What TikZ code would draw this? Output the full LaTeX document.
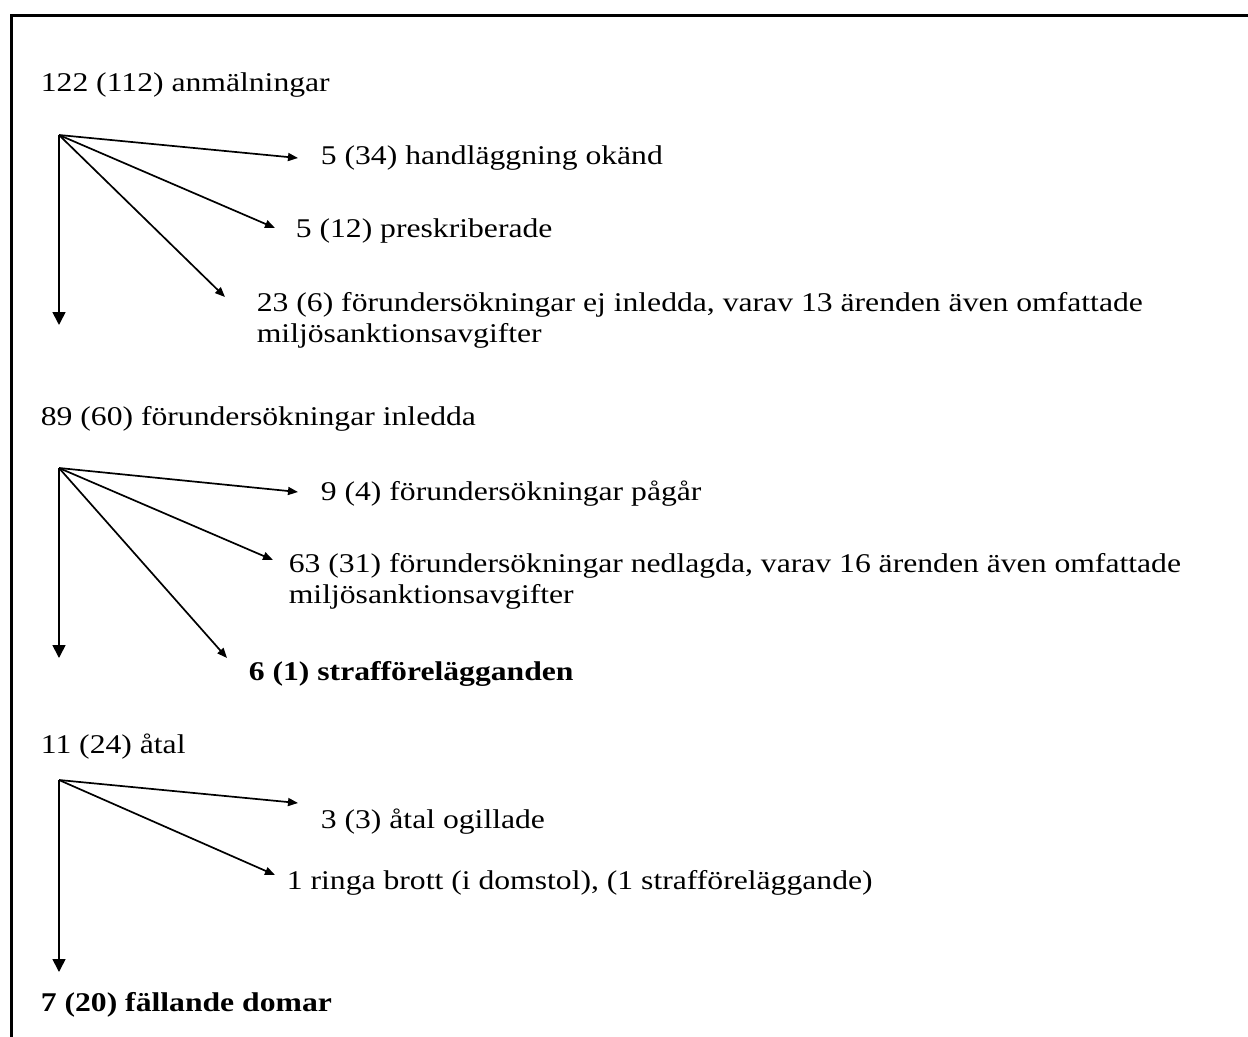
\documentclass[tikz,border=0pt]{standalone}
\usepackage{fontspec}
\setmainfont{Liberation Serif}[FakeStretch=1.17]
\usetikzlibrary{arrows.meta}
\tikzset{every path/.style={black, line width=0.034cm},
  every node/.style={anchor=base west, inner sep=0pt, align=left, font=\fontsize{15.4}{17.6}\selectfont},
  side/.style={-{Triangle[length=0.2cm,width=0.16cm]}},
  down/.style={-{Triangle[length=0.26cm,width=0.26cm]}},
  frame/.style={line width=0.054cm}}

\begin{document}
\begin{tikzpicture}[x=0.02cm, y=-0.02cm]
   \useasboundingbox (0,0) rectangle (1248,1037);
   \draw[frame] (11.3,1037) -- (11.3,15.3) -- (1248,15.3);

   \node (anm) at (40,92) {122 (112) anmälningar};
   \begin{scope}[shift={(59,135)}]
    \coordinate (o) at (0,0);
    \coordinate (a) at (239,23);
    \coordinate (b) at (216,93);
    \coordinate (c) at (166,162);
    \coordinate (d) at (0,190);
    \node (hand) at (261,30) {5 (34) handläggning okänd};
    \node (presk) at (236,103) {5 (12) preskriberade};
    \node (ejinl) at (197,207) {23 (6) förundersökningar ej inledda, varav 13 ärenden även omfattade\\miljösanktionsavgifter};
    \draw[side] (o) -- (a);
    \draw[side] (o) -- (b);
    \draw[side] (o) -- (c);
    \draw[down] (o) -- (d);
   \end{scope}

   \node (inl) at (40,425) {89 (60) förundersökningar inledda};
   \begin{scope}[shift={(59,468)}]
    \coordinate (o) at (0,0);
    \coordinate (a) at (239,24);
    \coordinate (b) at (214,92);
    \coordinate (c) at (168,190);
    \coordinate (d) at (0,190);
    \node (pagar) at (261,32) {9 (4) förundersökningar pågår};
    \node (nedl) at (229,135) {63 (31) förundersökningar nedlagda, varav 16 ärenden även omfattade\\miljösanktionsavgifter};
    \node (straff) at (189,212) {\textbf{6 (1) strafförelägganden}};
    \draw[side] (o) -- (a);
    \draw[side] (o) -- (b);
    \draw[side] (o) -- (c);
    \draw[down] (o) -- (d);
   \end{scope}

   \node (atal) at (40,753) {11 (24) åtal};
   \begin{scope}[shift={(59,780)}]
    \coordinate (o) at (0,0);
    \coordinate (a) at (239,23);
    \coordinate (b) at (216,95);
    \coordinate (d) at (0,192);
    \node (ogill) at (261,48) {3 (3) åtal ogillade};
    \node (ringa) at (227,109) {1 ringa brott (i domstol), (1 strafföreläggande)};
    \draw[side] (o) -- (a);
    \draw[side] (o) -- (b);
    \draw[down] (o) -- (d);
   \end{scope}

   \node (fall) at (40,1011) {\textbf{7 (20) fällande domar}};
\end{tikzpicture}
\end{document}
